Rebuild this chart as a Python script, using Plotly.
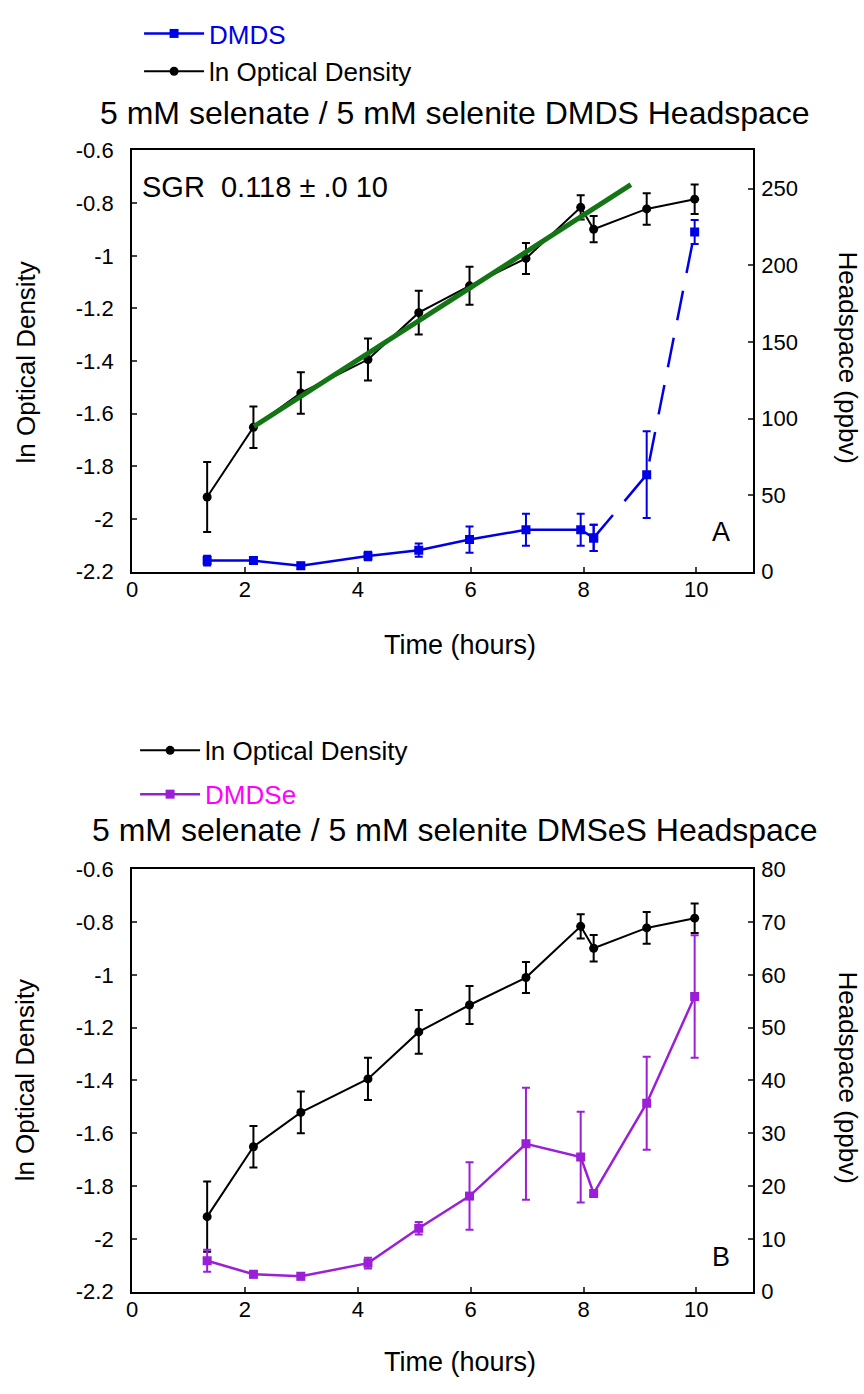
import plotly.graph_objects as go

# Sampling times (hours)
time_h = [1.33, 2.15, 2.99, 4.18, 5.08, 5.98, 6.98, 7.95, 8.18, 9.12, 9.97]

# ln optical density (mean and error)
ln_od = [-1.916, -1.651, -1.521, -1.394, -1.216, -1.114, -1.010, -0.816, -0.899, -0.822, -0.785]
ln_od_err = [0.133, 0.079, 0.079, 0.080, 0.083, 0.072, 0.059, 0.046, 0.050, 0.060, 0.056]

# DMDS headspace (ppbv)
dmds = [7.3, 7.3, 3.9, 10.3, 14.1, 21.0, 27.4, 27.4, 22.1, 63.4, 221.8]
dmds_err = [3.2, 2.0, 2.0, 2.8, 4.3, 8.6, 10.4, 10.4, 8.6, 28.3, 7.8]

# DMDSe headspace (ppbv)
dmdse = [5.85, 3.3, 2.9, 5.4, 12.0, 18.1, 28.0, 25.5, 18.6, 35.7, 55.9]
dmdse_err = [2.1, 0.6, 0.6, 1.0, 1.2, 6.4, 10.6, 8.6, 0.5, 8.8, 11.6]

# Specific growth rate fit line (endpoints)
fit_t = [2.16, 8.84]
fit_ln_od = [-1.648, -0.730]

# Axis ticks
x_ticks = [0, 2, 4, 6, 8, 10]
ln_ticks = [-0.6, -0.8, -1.0, -1.2, -1.4, -1.6, -1.8, -2.0, -2.2]
ln_tick_text = ["-0.6", "-0.8", "-1", "-1.2", "-1.4", "-1.6", "-1.8", "-2", "-2.2"]
dmds_ticks = [0, 50, 100, 150, 200, 250]
dmdse_ticks = [0, 10, 20, 30, 40, 50, 60, 70, 80]

W, H = 864, 1394
FONT = "Arial, Liberation Sans, sans-serif"
BLUE = "#0000e6"
PURPLE = "#9b1fd6"
GREEN = "#137513"

SPLIT = 8  # index where DMDS switches to a dashed line


def px_x(p):
    return p / W


def px_y(p):
    return 1 - p / H


fig = go.Figure()

eb = lambda arr, col: dict(type="data", array=arr, visible=True, color=col, thickness=2, width=4)

# ---- Panel A ----
fig.add_trace(go.Scatter(
    x=time_h[:SPLIT + 1], y=dmds[:SPLIT + 1], xaxis="x", yaxis="y2",
    mode="lines+markers", name="<span style='color:%s'>DMDS</span>" % BLUE,
    line=dict(color=BLUE, width=2.5), marker=dict(symbol="square", size=9, color=BLUE),
    error_y=eb(dmds_err[:SPLIT + 1], BLUE), legend="legend", legendgroup="a1", legendrank=1))
fig.add_trace(go.Scatter(
    x=time_h[SPLIT:], y=dmds[SPLIT:], xaxis="x", yaxis="y2",
    mode="lines+markers", showlegend=False,
    line=dict(color=BLUE, width=2.5, dash="30px,18px"), marker=dict(symbol="square", size=9, color=BLUE),
    error_y=eb(dmds_err[SPLIT:], BLUE)))
fig.add_trace(go.Scatter(
    x=time_h, y=ln_od, xaxis="x", yaxis="y", mode="lines+markers", name="ln Optical Density",
    line=dict(color="black", width=2), marker=dict(symbol="circle", size=9, color="black"),
    error_y=eb(ln_od_err, "black"), legend="legend", legendgroup="a2", legendrank=2))
fig.add_trace(go.Scatter(
    x=fit_t, y=fit_ln_od, xaxis="x", yaxis="y", mode="lines", showlegend=False,
    line=dict(color=GREEN, width=5)))

# ---- Panel B ----
fig.add_trace(go.Scatter(
    x=time_h, y=ln_od, xaxis="x2", yaxis="y3", mode="lines+markers", name="ln Optical Density",
    line=dict(color="black", width=2), marker=dict(symbol="circle", size=9, color="black"),
    error_y=eb(ln_od_err, "black"), legend="legend2", legendgroup="b1", legendrank=1))
fig.add_trace(go.Scatter(
    x=time_h, y=dmdse, xaxis="x2", yaxis="y4", mode="lines+markers",
    name="<span style='color:#ff00ff'>DMDSe</span>",
    line=dict(color=PURPLE, width=2.5), marker=dict(symbol="square", size=9, color=PURPLE),
    error_y=eb(dmdse_err, PURPLE), legend="legend2", legendgroup="b2", legendrank=2))

# Plot boxes in pixels
LEFT, RIGHT = 127, 752
A_TOP, A_BOT = 141, 570
B_TOP, B_BOT = 873, 1303

tickfont = dict(family=FONT, size=22, color="black")
common_x = dict(range=[0, 11], tickvals=x_ticks, ticks="inside", ticklen=5, tickwidth=2,
                showline=True, linewidth=2, linecolor="black", mirror=True, showgrid=False,
                zeroline=False, tickfont=tickfont, ticklabelstandoff=-3)
common_yl = dict(range=[-2.2, -0.6], tickvals=ln_ticks, ticktext=ln_tick_text, ticks="inside",
                 ticklen=5, tickwidth=2, showline=True, linewidth=2, linecolor="black",
                 showgrid=False, zeroline=False, tickfont=tickfont, ticklabelstandoff=12)
common_yr = dict(side="right", ticks="inside", ticklen=5, tickwidth=2, showline=True,
                 linewidth=2, linecolor="black", showgrid=False, zeroline=False,
                 tickfont=tickfont, ticklabelstandoff=2)

legend_font = dict(family=FONT, size=26, color="black")

fig.update_layout(
    width=W, height=H, margin=dict(l=0, r=0, t=0, b=0),
    paper_bgcolor="white", plot_bgcolor="white",
    font=dict(family=FONT, color="black"),
    xaxis=dict(domain=[px_x(LEFT), px_x(RIGHT)], anchor="y", **common_x),
    yaxis=dict(domain=[px_y(A_BOT), px_y(A_TOP)], anchor="x", **common_yl),
    yaxis2=dict(overlaying="y", anchor="x", range=[0, 275], tickvals=dmds_ticks, **common_yr),
    xaxis2=dict(domain=[px_x(LEFT), px_x(RIGHT)], anchor="y3", **common_x),
    yaxis3=dict(domain=[px_y(B_BOT), px_y(B_TOP)], anchor="x2", **common_yl),
    yaxis4=dict(overlaying="y3", anchor="x2", range=[0, 80], tickvals=dmdse_ticks, **common_yr),
    legend=dict(x=px_x(134), y=px_y(-2), xanchor="left", yanchor="top", bgcolor="rgba(0,0,0,0)",
                font=legend_font, itemwidth=60, tracegroupgap=1, traceorder="grouped"),
    legend2=dict(x=px_x(130), y=px_y(728), xanchor="left", yanchor="top", bgcolor="rgba(0,0,0,0)",
                 font=legend_font, itemwidth=60, tracegroupgap=7, traceorder="grouped"),
    showlegend=True,
)

ann = []
def text(x, y, s, size=22, angle=0, xanchor="center"):
    ann.append(dict(x=px_x(x), y=px_y(y), xref="paper", yref="paper", text=s, showarrow=False,
                    textangle=angle, xanchor=xanchor, yanchor="middle",
                    font=dict(family=FONT, size=size, color="black")))

text(452, 103, "5 mM selenate / 5 mM selenite DMDS Headspace", size=32)
text(452, 833, "5 mM selenate / 5 mM selenite DMSeS Headspace", size=32)
text(135, 178, "SGR&nbsp;&nbsp;0.118 ± .0 10", size=29, xanchor="left")
text(720, 530, "A", size=27)
text(720, 1268, "B", size=27)
for yc in (357, 1088):
    text(20, yc, "ln Optical Density", size=26, angle=-90)
for yc in (352, 1085):
    text(848, yc, "Headspace (ppbv)", size=26, angle=90)
text(457, 645, "Time (hours)", size=27)
text(457, 1375, "Time (hours)", size=27)
fig.update_layout(annotations=ann)

fig.write_html("out.html")
